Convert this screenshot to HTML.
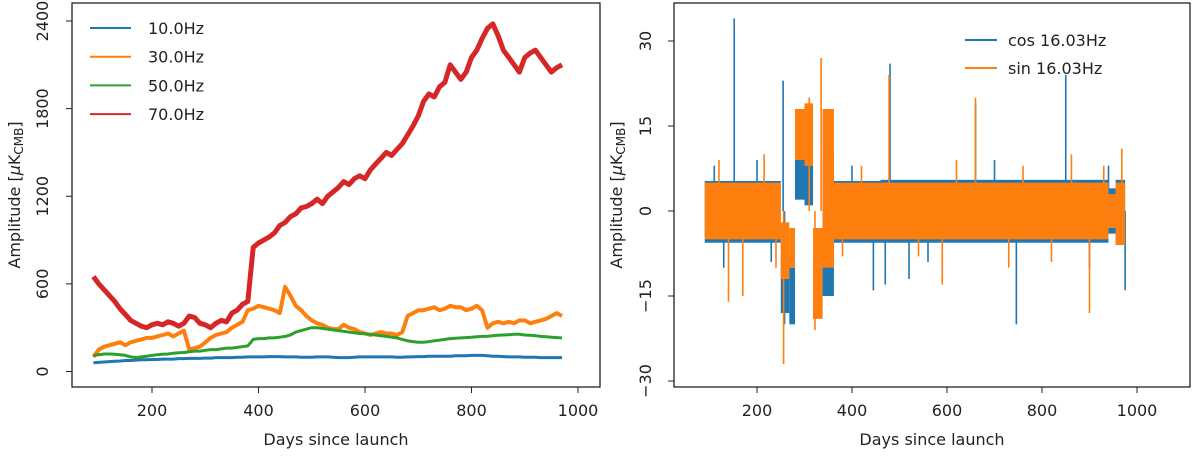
<!DOCTYPE html>
<html><head><meta charset="utf-8"><style>
body{margin:0;background:#fff}
svg text{font-family:"DejaVu Sans","Liberation Sans",sans-serif;font-size:16px;fill:#222}
</style></head><body>
<svg id="chart" width="1200" height="454" xmlns="http://www.w3.org/2000/svg">
<g id="left"></g>
<g id="right"></g>
</svg>
<script>
const leftDays=[];for(let d=90;d<=970;d+=10)leftDays.push(d);
const red10=[650,600,560,520,480,430,390,350,330,310,300,320,330,320,340,330,310,330,380,370,330,320,300,330,350,340,400,420,460,480,850,880,900,920,950,1000,1020,1060,1080,1120,1130,1150,1180,1150,1200,1230,1260,1300,1280,1320,1340,1320,1380,1420,1460,1500,1480,1520,1560,1620,1680,1750,1850,1900,1880,1950,1980,2100,2050,2000,2050,2150,2200,2280,2350,2380,2300,2200,2150,2100,2050,2150,2180,2200,2150,2100,2050,2080,2100];
const orange30=[100,150,170,180,190,200,180,200,210,220,230,230,240,250,260,240,260,280,150,160,170,200,230,250,260,270,300,320,340,420,430,450,440,430,420,400,580,520,450,420,380,350,330,320,300,290,290,320,300,290,270,260,250,260,270,260,260,250,270,380,400,420,420,430,440,420,430,450,440,440,420,430,450,420,300,330,340,330,340,330,350,350,330,340,350,360,380,400,380];
const green50=[110,115,120,120,118,115,110,100,95,100,105,110,115,118,120,125,128,130,135,140,140,145,150,150,155,160,160,165,170,175,220,225,225,230,230,235,240,250,270,280,290,300,300,295,290,285,280,275,270,265,260,258,255,250,245,240,235,230,220,210,205,200,200,205,210,215,220,225,228,230,232,235,238,240,242,245,248,250,252,255,255,250,248,245,240,238,235,232,230];
const blue10=[60,62,65,68,70,72,75,75,78,80,80,82,82,85,85,85,88,88,90,90,90,92,92,95,95,95,95,98,98,100,100,100,100,102,102,102,100,100,100,98,98,98,100,100,100,98,95,95,95,98,100,100,100,100,100,100,100,98,98,100,100,102,102,105,105,105,105,105,108,108,108,110,110,110,108,105,105,102,100,100,100,98,98,98,95,95,95,95,95];
const leftYTicks=[0,600,1200,1800,2400];
const leftXTicks=[200,400,600,800,1000];
// right panel: regions [startDay,endDay,orangeLo,orangeHi,blueLo,blueHi]
const regStart=[90,250,268,280,300,318,338,362,460,780,940,955];
const regEnd=[250,268,280,300,318,338,362,460,780,940,955,975];
const sinLo=[-5,-12,-10,9,8,-19,-10,-5,-5,-5,-3,-6];
const sinHi=[5,-2,-3,18,19,-3,18,5,5,5,3,5];
const cosLo=[-5.6,-18,-20,2,1,-19,-15,-5.6,-5.6,-5.6,-4,-6];
const cosHi=[5.3,-8,-10,9,8,-9,10,5.3,5.5,5.5,4,5.5];
const cosSpikeDays=[152,255,258,480,660,746,850,975,520,445,130,470,110,200,230,400,560,700,900,940];
const cosSpikeVals=[34,23,-20,26,19,-20,24,-14,-12,-14,-10,-13,8,9,-9,8,-9,9,-10,8];
const sinSpikeDays=[140,256,335,478,660,590,900,968,730,310,170,322,862,120,215,240,380,420,540,620,760,820,930];
const sinSpikeVals=[-16,-27,27,24,20,-13,-18,11,-10,20,-15,-21,10,9,10,-10,-8,8,-8,9,8,-9,8];
const rightYTicks=[-30,-15,0,15,30];
const rightXTicks=[200,400,600,800,1000];

const NS='http://www.w3.org/2000/svg';
function mk(p,t,a){const e=document.createElementNS(NS,t);for(const k in a)e.setAttribute(k,a[k]);p.appendChild(e);return e;}
const C={blue:'#1f77b4',orange:'#ff7f0e',green:'#2ca02c',red:'#d62728'};

// LEFT
const L=document.getElementById('left');
const lx=d=>152+(d-200)*(426/800), ly=v=>371.5-v*(350.5/2400);
function line(p,arr,col,w,name){
  const pts=arr.map((v,i)=>lx(leftDays[i]).toFixed(1)+','+ly(v).toFixed(1)).join(' ');
  const e=mk(p,'polyline',{points:pts,fill:'none',stroke:col,'stroke-width':w,'stroke-linejoin':'round'});
  
  
}
line(L,blue10,C.blue,3,'series-10hz');
line(L,orange30,C.orange,4,'series-30hz');
line(L,green50,C.green,3,'series-50hz');
line(L,red10,C.red,5,'series-70hz');
mk(L,'rect',{x:72,y:3,width:528,height:384,fill:'none',stroke:'#222','stroke-width':1.3});
leftYTicks.forEach(v=>{const y=ly(v);mk(L,'line',{x1:66,x2:72,y1:y,y2:y,stroke:'#222'});
  const t=mk(L,'text',{x:0,y:0,transform:`translate(48,${y}) rotate(-90)`,'text-anchor':'middle'});t.textContent=v;
  
  });
leftXTicks.forEach(v=>{const x=lx(v);mk(L,'line',{x1:x,x2:x,y1:387,y2:393,stroke:'#222'});
  const t=mk(L,'text',{x:x,y:416,'text-anchor':'middle'});t.textContent=v;
  
  });
let t=mk(L,'text',{x:336,y:445,'text-anchor':'middle'});t.textContent='Days since launch';


t=mk(L,'text',{transform:'translate(20,195) rotate(-90)','text-anchor':'middle'});t.innerHTML='Amplitude [<tspan font-style="italic">μ</tspan>K<tspan font-size="12" dy="3">CMB</tspan><tspan dy="-3">]</tspan>';


[['10.0Hz',C.blue],['30.0Hz',C.orange],['50.0Hz',C.green],['70.0Hz',C.red]].forEach((s,i)=>{
  const y=28+i*28.7;
  mk(L,'line',{x1:90,x2:131,y1:y,y2:y,stroke:s[1],'stroke-width':2});
  const e=mk(L,'text',{x:148,y:y+6});e.textContent=s[0];
  
  
});

// RIGHT
const R=document.getElementById('right');
const rx=d=>757+(d-200)*(380/800), ry=v=>211-v*(85/15);
function band(lo,hi,col,name){
  const g=mk(R,'g',{});
  
  
  regStart.forEach((s,i)=>{
    mk(g,'rect',{x:rx(s),y:ry(hi[i]),width:rx(regEnd[i])-rx(s),height:ry(lo[i])-ry(hi[i]),fill:col});
  });
  return g;
}
function spikes(days,vals,col,g){
  days.forEach((d,i)=>{mk(g,'line',{x1:rx(d),x2:rx(d),y1:ry(0),y2:ry(vals[i]),stroke:col,'stroke-width':1.6});});
}
const gc=band(cosLo,cosHi,C.blue,'series-cos');
spikes(cosSpikeDays,cosSpikeVals,C.blue,gc);
const gs=band(sinLo,sinHi,C.orange,'series-sin');
spikes(sinSpikeDays,sinSpikeVals,C.orange,gs);
mk(R,'rect',{x:674,y:3,width:516,height:384,fill:'none',stroke:'#222','stroke-width':1.3});
rightYTicks.forEach(v=>{const y=ry(v);mk(R,'line',{x1:668,x2:674,y1:y,y2:y,stroke:'#222'});
  const e=mk(R,'text',{transform:`translate(651,${y}) rotate(-90)`,'text-anchor':'middle'});e.textContent=v<0?'−'+(-v):v;
  
  });
rightXTicks.forEach(v=>{const x=rx(v);mk(R,'line',{x1:x,x2:x,y1:387,y2:393,stroke:'#222'});
  const e=mk(R,'text',{x:x,y:416,'text-anchor':'middle'});e.textContent=v;
  
  });
t=mk(R,'text',{x:932,y:445,'text-anchor':'middle'});t.textContent='Days since launch';


t=mk(R,'text',{transform:'translate(622,195) rotate(-90)','text-anchor':'middle'});t.innerHTML='Amplitude [<tspan font-style="italic">μ</tspan>K<tspan font-size="12" dy="3">CMB</tspan><tspan dy="-3">]</tspan>';


[['cos 16.03Hz',C.blue],['sin 16.03Hz',C.orange]].forEach((s,i)=>{
  const y=40+i*28;
  mk(R,'line',{x1:965,x2:997,y1:y,y2:y,stroke:s[1],'stroke-width':2});
  const e=mk(R,'text',{x:1008,y:y+6});e.textContent=s[0];
  
  
});
</script>
</body></html>
